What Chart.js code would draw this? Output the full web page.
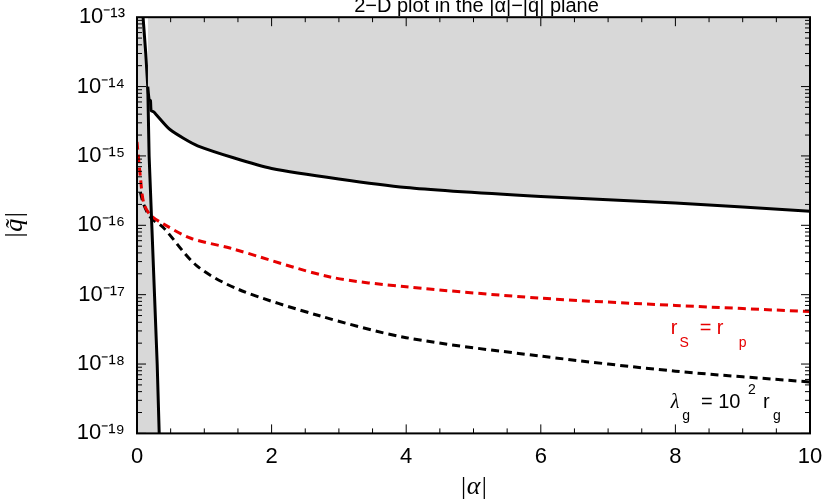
<!DOCTYPE html>
<html>
<head>
<meta charset="utf-8">
<script src="https://cdn.jsdelivr.net/npm/chart.js@4/dist/chart.umd.min.js"></script>
<style>
  html, body { margin: 0; padding: 0; background: #fff; }
</style>
</head>
<body>
<canvas id="chart" width="839" height="503"></canvas>
<script>
// values
const steepAlpha = [0.09, 0.13, 0.16, 0.18, 0.22, 0.26, 0.30, 0.33];
const steepQ = [1e-13, 3e-14, 1e-14, 1e-15, 1e-16, 1e-17, 1e-18, 1e-19];

const boundAlpha = [0.16, 0.18, 0.2, 0.21, 0.25, 0.49, 0.9, 2, 4, 6, 8, 10];
const boundQ = [1e-14, 6.5e-15, 6.3e-15, 4.5e-15, 4.3e-15, 2.4e-15, 1.4e-15, 6.6e-16, 3.5e-16, 2.6e-16, 2.1e-16, 1.6e-16];

const redAlpha = [0, 0.05, 0.1, 0.2, 0.39, 0.8, 1.38, 2.87, 4, 6, 8, 10];
const redQ = [1.6e-15, 5e-16, 2.1e-16, 1.4e-16, 1.05e-16, 6.5e-17, 4.7e-17, 1.8e-17, 1.3e-17, 8.9e-18, 7e-18, 5.7e-18];

const blackAlpha = [0.05, 0.1, 0.2, 0.39, 0.89, 1.5, 2.7, 4, 6, 8, 10];
const blackQ = [3e-16, 2e-16, 1.3e-16, 9.3e-17, 2.6e-17, 1.2e-17, 5e-18, 2.4e-18, 1.3e-18, 7.9e-19, 5.5e-19];

const xTicks = [0, 2, 4, 6, 8, 10];
const yExps = [-13, -14, -15, -16, -17, -18, -19];

const pts = (xs, ys) => xs.map((x, i) => ({ x: x, y: ys[i] }));
const sup = s => s.replace(/[-0-9]/g, c => ({'-':'\u207B','0':'\u2070','1':'\u00B9','2':'\u00B2','3':'\u00B3','4':'\u2074','5':'\u2075','6':'\u2076','7':'\u2077','8':'\u2078','9':'\u2079'})[c]);

const GRAY = 'rgb(216,216,216)';

// gray region to the left of the steep line, drawn through the scales
const leftFill = {
  id: 'leftFill',
  beforeDatasetsDraw(chart) {
    const { ctx, scales: { x, y } } = chart;
    ctx.save();
    ctx.fillStyle = GRAY;
    ctx.beginPath();
    ctx.moveTo(x.getPixelForValue(0), y.getPixelForValue(1e-13));
    steepAlpha.forEach((a, i) => ctx.lineTo(x.getPixelForValue(a), y.getPixelForValue(steepQ[i])));
    ctx.lineTo(x.getPixelForValue(0), y.getPixelForValue(1e-19));
    ctx.closePath();
    ctx.fill();
    ctx.restore();
  }
};

const extras = {
  id: 'extras',
  afterDraw(chart) {
    const { ctx, chartArea: a, scales: { x, y } } = chart;
    ctx.save();
    // frame and inner ticks
    ctx.strokeStyle = '#000';
    ctx.lineWidth = 2;
    ctx.strokeRect(a.left, a.top, a.right - a.left, a.bottom - a.top);
    ctx.lineWidth = 1;
    ctx.beginPath();
    for (let v = 0; v <= 10.001; v += 0.5) {
      const px = x.getPixelForValue(v);
      const len = (Math.abs(v % 2) < 0.01) ? 9 : 5;
      ctx.moveTo(px, a.bottom); ctx.lineTo(px, a.bottom - len);
      ctx.moveTo(px, a.top); ctx.lineTo(px, a.top + len);
    }
    for (let e = -19; e < -13; e++) {
      for (let m = 1; m < 10; m++) {
        const py = y.getPixelForValue(m * Math.pow(10, e));
        const len = m === 1 ? 9 : 5;
        ctx.moveTo(a.left, py); ctx.lineTo(a.left + len, py);
        ctx.moveTo(a.right, py); ctx.lineTo(a.right - len, py);
      }
    }
    ctx.stroke();
    // title
    ctx.fillStyle = '#000';
    ctx.textAlign = 'center';
    ctx.textBaseline = 'bottom';
    ctx.font = '20px "Liberation Sans"';
    ctx.fillText('2\u2212D plot in the |\u03B1|\u2212|q\u0303| plane', (a.left + a.right) / 2 + 3, a.top - 1);
    // annotations
    ctx.textAlign = 'left';
    ctx.font = '20px "Liberation Sans"';
    ctx.fillStyle = 'rgb(230,0,0)';
    ctx.fillText('r', x.getPixelForValue(7.93), y.getPixelForValue(2.3e-18));
    ctx.font = '14px "Liberation Sans"';
    ctx.fillText('S', x.getPixelForValue(8.06), y.getPixelForValue(1.6e-18));
    ctx.font = '20px "Liberation Sans"';
    ctx.fillText('= r', x.getPixelForValue(8.36), y.getPixelForValue(2.3e-18));
    ctx.font = '14px "Liberation Sans"';
    ctx.fillText('p', x.getPixelForValue(8.94), y.getPixelForValue(1.6e-18));
    ctx.fillStyle = '#000';
    ctx.font = 'italic 20px "Liberation Serif"';
    ctx.fillText('\u03BB', x.getPixelForValue(7.93), y.getPixelForValue(2.0e-19));
    ctx.font = '14px "Liberation Sans"';
    ctx.fillText('g', x.getPixelForValue(8.1), y.getPixelForValue(1.4e-19));
    ctx.font = '20px "Liberation Sans"';
    ctx.fillText('= 10', x.getPixelForValue(8.38), y.getPixelForValue(2.0e-19));
    ctx.font = '14px "Liberation Sans"';
    ctx.fillText('2', x.getPixelForValue(9.08), y.getPixelForValue(3.3e-19));
    ctx.font = '20px "Liberation Sans"';
    ctx.fillText('r', x.getPixelForValue(9.3), y.getPixelForValue(2.0e-19));
    ctx.font = '14px "Liberation Sans"';
    ctx.fillText('g', x.getPixelForValue(9.45), y.getPixelForValue(1.4e-19));
    ctx.restore();
  }
};

new Chart(document.getElementById('chart'), {
  type: 'line',
  data: {
    datasets: [
      { data: pts(boundAlpha, boundQ), borderColor: '#000', borderWidth: 3, fill: 'end', backgroundColor: GRAY, pointRadius: 0, tension: 0.2 },
      { data: pts(steepAlpha, steepQ), borderColor: '#000', borderWidth: 3, fill: false, pointRadius: 0 },
      { data: pts(redAlpha, redQ), borderColor: 'rgb(230,0,0)', borderWidth: 3, borderDash: [8, 5], fill: false, pointRadius: 0, tension: 0.3 },
      { data: pts(blackAlpha, blackQ), borderColor: '#000', borderWidth: 3, borderDash: [8, 5], fill: false, pointRadius: 0, tension: 0.3 }
    ]
  },
  options: {
    responsive: false,
    animation: false,
    layout: { padding: { top: 13, right: 29, left: 0, bottom: 0 } },
    plugins: { legend: { display: false }, tooltip: { enabled: false } },
    scales: {
      x: {
        type: 'linear', min: 0, max: 10,
        afterBuildTicks: s => { s.ticks = xTicks.map(v => ({ value: v })); },
        grid: { display: false },
        border: { display: false },
        ticks: { color: '#000', font: { size: 22, family: 'Liberation Sans' }, maxRotation: 0, padding: 2 },
        title: { display: true, text: '|\u03B1|', color: '#000', font: { size: 26, family: 'Liberation Serif', style: 'italic' }, padding: 0 }
      },
      y: {
        type: 'logarithmic', min: 1e-19, max: 1e-13,
        afterBuildTicks: s => { s.ticks = yExps.map(e => ({ value: Math.pow(10, e) })); },
        afterFit: s => { s.width = 137; },
        grid: { display: false },
        border: { display: false },
        ticks: { color: '#000', font: { size: 22, family: 'Liberation Sans' }, padding: 4,
          callback: v => '10' + sup(String(Math.round(Math.log10(v)))) },
        title: { display: true, text: '|q\u0303|', color: '#000', font: { size: 26, family: 'Liberation Serif', style: 'italic' }, padding: 0 }
      }
    }
  },
  plugins: [leftFill, extras]
});
</script>
</body>
</html>
